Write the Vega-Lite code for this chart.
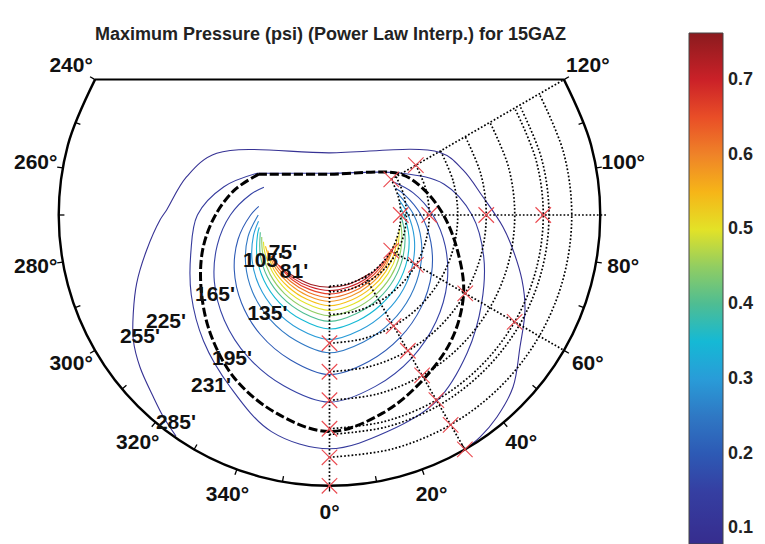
{
"$schema": "https://vega.github.io/schema/vega-lite/v6.json",
"width": 765, "height": 544, "autosize": "none", "padding": 0, "background": "white",
"title": {"text": "Maximum Pressure (psi) (Power Law Interp.) for 15GAZ", "frame": "group", "anchor": "middle", "dx": -52, "offset": -58, "baseline": "alphabetic", "font": "Liberation Sans", "fontSize": 18, "fontWeight": "bold", "color": "#222222"},
"config": {"view": {"stroke": null}},
"datasets": {
"contours": [
{"c":"C01","v":0.745,"x":-43.0,"y":-61.4},{"c":"C01","v":0.745,"x":-19.6,"y":-73.2},{"c":"C01","v":0.745,"x":0,"y":-76},{"c":"C01","v":0.745,"x":19.6,"y":-73.2},{"c":"C01","v":0.745,"x":43.0,"y":-61.4},
{"c":"C02","v":0.70,"x":-53.0,"y":-53.0},{"c":"C02","v":0.70,"x":-38.4,"y":-66.4},{"c":"C02","v":0.70,"x":-20.3,"y":-75.6},{"c":"C02","v":0.70,"x":0,"y":-79.5},{"c":"C02","v":0.70,"x":20.3,"y":-75.7},{"c":"C02","v":0.70,"x":38.6,"y":-66.8},{"c":"C02","v":0.70,"x":57.5,"y":-48.2},
{"c":"C03","v":0.66,"x":-57.5,"y":-48.2},{"c":"C03","v":0.66,"x":-39.3,"y":-68.1},{"c":"C03","v":0.66,"x":-21.0,"y":-78.3},{"c":"C03","v":0.66,"x":0,"y":-83},{"c":"C03","v":0.66,"x":21.1,"y":-78.6},{"c":"C03","v":0.66,"x":39.6,"y":-68.7},{"c":"C03","v":0.66,"x":54.4,"y":-54.4},{"c":"C03","v":0.66,"x":62.9,"y":-40.8},
{"c":"C04","v":0.62,"x":-61.4,"y":-43.0},{"c":"C04","v":0.62,"x":-54.9,"y":-54.9},{"c":"C04","v":0.62,"x":-40.6,"y":-70.3},{"c":"C04","v":0.62,"x":-21.9,"y":-81.6},{"c":"C04","v":0.62,"x":0,"y":-87},{"c":"C04","v":0.62,"x":21.9,"y":-81.9},{"c":"C04","v":0.62,"x":41.0,"y":-71.0},{"c":"C04","v":0.62,"x":55.7,"y":-55.7},{"c":"C04","v":0.62,"x":66.2,"y":-35.2},
{"c":"C05","v":0.58,"x":-65.0,"y":-37.5},{"c":"C05","v":0.58,"x":-56.4,"y":-56.4},{"c":"C05","v":0.58,"x":-42.0,"y":-72.7},{"c":"C05","v":0.58,"x":-22.8,"y":-85.0},{"c":"C05","v":0.58,"x":0,"y":-91},{"c":"C05","v":0.58,"x":22.9,"y":-85.3},{"c":"C05","v":0.58,"x":42.4,"y":-73.4},{"c":"C05","v":0.58,"x":57.2,"y":-57.2},{"c":"C05","v":0.58,"x":68.5,"y":-30.5},
{"c":"C06","v":0.54,"x":-67.4,"y":-32.9},{"c":"C06","v":0.54,"x":-58.1,"y":-58.1},{"c":"C06","v":0.54,"x":-43.6,"y":-75.5},{"c":"C06","v":0.54,"x":-23.8,"y":-88.8},{"c":"C06","v":0.54,"x":0,"y":-95.5},{"c":"C06","v":0.54,"x":23.9,"y":-89.2},{"c":"C06","v":0.54,"x":44.2,"y":-76.5},{"c":"C06","v":0.54,"x":59.3,"y":-59.3},{"c":"C06","v":0.54,"x":68.4,"y":-39.5},{"c":"C06","v":0.54,"x":71.3,"y":-23.2},
{"c":"C07","v":0.50,"x":-69.5,"y":-28.1},{"c":"C07","v":0.50,"x":-68.1,"y":-39.3},{"c":"C07","v":0.50,"x":-60.0,"y":-60.0},{"c":"C07","v":0.50,"x":-45.5,"y":-78.8},{"c":"C07","v":0.50,"x":-24.9,"y":-93.0},{"c":"C07","v":0.50,"x":0,"y":-100.5},{"c":"C07","v":0.50,"x":25.1,"y":-93.7},{"c":"C07","v":0.50,"x":46.2,"y":-80.0},{"c":"C07","v":0.50,"x":61.7,"y":-61.7},{"c":"C07","v":0.50,"x":70.9,"y":-41.0},{"c":"C07","v":0.50,"x":73.4,"y":-15.6},
{"c":"C08","v":0.45,"x":-71.3,"y":-23.2},{"c":"C08","v":0.45,"x":-70.2,"y":-40.6},{"c":"C08","v":0.45,"x":-62.5,"y":-62.5},{"c":"C08","v":0.45,"x":-47.6,"y":-82.4},{"c":"C08","v":0.45,"x":-26.2,"y":-97.8},{"c":"C08","v":0.45,"x":0,"y":-106},{"c":"C08","v":0.45,"x":26.4,"y":-98.6},{"c":"C08","v":0.45,"x":48.5,"y":-84.0},{"c":"C08","v":0.45,"x":64.6,"y":-64.6},{"c":"C08","v":0.45,"x":73.9,"y":-42.7},{"c":"C08","v":0.45,"x":76.2,"y":-20.4},{"c":"C08","v":0.45,"x":74.6,"y":-7.8},
{"c":"C09","v":0.40,"x":-72.8,"y":-18.1},{"c":"C09","v":0.40,"x":-72.8,"y":-42.1},{"c":"C09","v":0.40,"x":-65.3,"y":-65.3},{"c":"C09","v":0.40,"x":-50.0,"y":-86.5},{"c":"C09","v":0.40,"x":-27.6,"y":-103.1},{"c":"C09","v":0.40,"x":0,"y":-112},{"c":"C09","v":0.40,"x":27.9,"y":-104.0},{"c":"C09","v":0.40,"x":51.1,"y":-88.4},{"c":"C09","v":0.40,"x":67.8,"y":-67.8},{"c":"C09","v":0.40,"x":77.2,"y":-44.6},{"c":"C09","v":0.40,"x":79.5,"y":-21.3},{"c":"C09","v":0.40,"x":75,"y":0},
{"c":"C10","v":0.35,"x":-73.9,"y":-13.0},{"c":"C10","v":0.35,"x":-75.7,"y":-20.3},{"c":"C10","v":0.35,"x":-76.3,"y":-44.1},{"c":"C10","v":0.35,"x":-68.9,"y":-68.9},{"c":"C10","v":0.35,"x":-53.1,"y":-91.9},{"c":"C10","v":0.35,"x":-29.5,"y":-110.1},{"c":"C10","v":0.35,"x":0,"y":-120},{"c":"C10","v":0.35,"x":29.8,"y":-111.2},{"c":"C10","v":0.35,"x":54.4,"y":-94.2},{"c":"C10","v":0.35,"x":72.1,"y":-72.1},{"c":"C10","v":0.35,"x":81.8,"y":-47.2},{"c":"C10","v":0.35,"x":83.6,"y":-22.4},{"c":"C10","v":0.35,"x":78.4,"y":0},{"c":"C10","v":0.35,"x":74.6,"y":7.8},
{"c":"C11","v":0.30,"x":-74.7,"y":-6.5},{"c":"C11","v":0.30,"x":-80.0,"y":-21.4},{"c":"C11","v":0.30,"x":-81.5,"y":-47.1},{"c":"C11","v":0.30,"x":-74.2,"y":-74.2},{"c":"C11","v":0.30,"x":-57.5,"y":-99.5},{"c":"C11","v":0.30,"x":-32.1,"y":-119.9},{"c":"C11","v":0.30,"x":0,"y":-131},{"c":"C11","v":0.30,"x":32.5,"y":-121.1},{"c":"C11","v":0.30,"x":59.1,"y":-102.3},{"c":"C11","v":0.30,"x":77.9,"y":-77.9},{"c":"C11","v":0.30,"x":87.8,"y":-50.7},{"c":"C11","v":0.30,"x":89.2,"y":-23.9},{"c":"C11","v":0.30,"x":82.8,"y":0},{"c":"C11","v":0.30,"x":73.4,"y":15.6},
{"c":"C12","v":0.25,"x":-75,"y":0},{"c":"C12","v":0.25,"x":-85.8,"y":-23.0},{"c":"C12","v":0.25,"x":-88.3,"y":-51.0},{"c":"C12","v":0.25,"x":-81.0,"y":-81.0},{"c":"C12","v":0.25,"x":-63.1,"y":-109.3},{"c":"C12","v":0.25,"x":-35.4,"y":-132.1},{"c":"C12","v":0.25,"x":0,"y":-145},{"c":"C12","v":0.25,"x":35.8,"y":-133.7},{"c":"C12","v":0.25,"x":65.0,"y":-112.6},{"c":"C12","v":0.25,"x":85.2,"y":-85.2},{"c":"C12","v":0.25,"x":95.6,"y":-55.2},{"c":"C12","v":0.25,"x":96.5,"y":-25.9},{"c":"C12","v":0.25,"x":88.8,"y":0},{"c":"C12","v":0.25,"x":71.3,"y":23.2},
{"c":"C13","v":0.20,"x":-74.4,"y":9.1},{"c":"C13","v":0.20,"x":-83,"y":0},{"c":"C13","v":0.20,"x":-96.3,"y":-25.8},{"c":"C13","v":0.20,"x":-100.2,"y":-57.9},{"c":"C13","v":0.20,"x":-92.6,"y":-92.6},{"c":"C13","v":0.20,"x":-72.7,"y":-125.8},{"c":"C13","v":0.20,"x":-40.9,"y":-152.6},{"c":"C13","v":0.20,"x":0,"y":-168},{"c":"C13","v":0.20,"x":41.3,"y":-154.2},{"c":"C13","v":0.20,"x":74.4,"y":-128.9},{"c":"C13","v":0.20,"x":96.7,"y":-96.7},{"c":"C13","v":0.20,"x":107.4,"y":-62.0},{"c":"C13","v":0.20,"x":106.7,"y":-28.6},{"c":"C13","v":0.20,"x":96.4,"y":0},{"c":"C13","v":0.20,"x":79.2,"y":21.2},{"c":"C13","v":0.20,"x":69.5,"y":28.1},
{"c":"C14","v":0.16,"x":-69.0,"y":29.3},{"c":"C14","v":0.16,"x":-82.5,"y":22.1},{"c":"C14","v":0.16,"x":-104.3,"y":0},{"c":"C14","v":0.16,"x":-118.1,"y":-31.7},{"c":"C14","v":0.16,"x":-121.2,"y":-70.0},{"c":"C14","v":0.16,"x":-110.7,"y":-110.7},{"c":"C14","v":0.16,"x":-86.1,"y":-149.1},{"c":"C14","v":0.16,"x":-48.2,"y":-179.8},{"c":"C14","v":0.16,"x":0,"y":-197},{"c":"C14","v":0.16,"x":48.3,"y":-180.4},{"c":"C14","v":0.16,"x":86.8,"y":-150.3},{"c":"C14","v":0.16,"x":112.2,"y":-112.2},{"c":"C14","v":0.16,"x":123.8,"y":-71.5},{"c":"C14","v":0.16,"x":121.8,"y":-32.6},{"c":"C14","v":0.16,"x":108.8,"y":0},{"c":"C14","v":0.16,"x":87.8,"y":23.5},{"c":"C14","v":0.16,"x":66.2,"y":35.2},
{"c":"C15","v":0.13,"x":-76.2,"y":44.0},{"c":"C15","v":0.13,"x":-111.1,"y":29.8},{"c":"C15","v":0.13,"x":-139,"y":0},{"c":"C15","v":0.13,"x":-145.9,"y":-39.1},{"c":"C15","v":0.13,"x":-145.5,"y":-84.0},{"c":"C15","v":0.13,"x":-132.6,"y":-132.6},{"c":"C15","v":0.13,"x":-104.5,"y":-181.0},{"c":"C15","v":0.13,"x":-61.1,"y":-228.0},{"c":"C15","v":0.13,"x":0,"y":-246},{"c":"C15","v":0.13,"x":61.1,"y":-228.0},{"c":"C15","v":0.13,"x":113,"y":-195.7},{"c":"C15","v":0.13,"x":145.0,"y":-145.0},{"c":"C15","v":0.13,"x":160.2,"y":-92.5},{"c":"C15","v":0.13,"x":162.3,"y":-43.5},{"c":"C15","v":0.13,"x":150,"y":0},{"c":"C15","v":0.13,"x":120.7,"y":32.4},{"c":"C15","v":0.13,"x":76.2,"y":44.0},{"c":"C15","v":0.13,"x":0,"y":44.0},{"c":"C15","v":0.13,"x":-76.2,"y":44.0},
{"c":"C16","v":0.10,"x":-161.6,"y":-232.6},{"c":"C16","v":0.10,"x":-174.9,"y":-212.3},{"c":"C16","v":0.10,"x":-185.5,"y":-191.3},{"c":"C16","v":0.10,"x":-199.5,"y":-160},{"c":"C16","v":0.10,"x":-206.5,"y":-131.6},{"c":"C16","v":0.10,"x":-206.5,"y":-103.2},{"c":"C16","v":0.10,"x":-202.9,"y":-71.6},{"c":"C16","v":0.10,"x":-192.4,"y":-36.8},{"c":"C16","v":0.10,"x":-178.4,"y":-5.3},{"c":"C16","v":0.10,"x":-171.4,"y":5.3},{"c":"C16","v":0.10,"x":-150.3,"y":40.3},{"c":"C16","v":0.10,"x":-118.7,"y":64.9},{"c":"C16","v":0.10,"x":0,"y":65.4},{"c":"C16","v":0.10,"x":116.3,"y":65.8},{"c":"C16","v":0.10,"x":140.5,"y":47.4},{"c":"C16","v":0.10,"x":161.6,"y":18.9},{"c":"C16","v":0.10,"x":182.6,"y":-12.6},{"c":"C16","v":0.10,"x":193.2,"y":-36.8},{"c":"C16","v":0.10,"x":202.6,"y":-68.4},{"c":"C16","v":0.10,"x":205.8,"y":-100},{"c":"C16","v":0.10,"x":200.5,"y":-138.9},{"c":"C16","v":0.10,"x":193.2,"y":-181.1},{"c":"C16","v":0.10,"x":176.3,"y":-212.6},{"c":"C16","v":0.10,"x":158.4,"y":-233.7},{"c":"C16","v":0.10,"x":137.4,"y":-250.5}
],
"dash": [
{"x":-74.5,"y":43.0},{"x":-99.5,"y":26.7},{"x":-120,"y":0},{"x":-133.3,"y":-35.7},{"x":-135.1,"y":-78.0},{"x":-125.2,"y":-125.2},{"x":-99.5,"y":-172.3},{"x":-55.9,"y":-208.6},{"x":0,"y":-228},{"x":55.9,"y":-208.6},{"x":99.5,"y":-172.3},{"x":129.4,"y":-129.4},{"x":141.2,"y":-81.5},{"x":134.3,"y":-36.0},{"x":120,"y":0},{"x":99.5,"y":26.7},{"x":74.5,"y":43.0},{"x":0,"y":43.0},{"x":-74.5,"y":43.0}
],
"rings": [
{"r":75,"x":0,"y":-75},{"r":75,"x":19.4,"y":-72.4},{"r":75,"x":37.5,"y":-65.0},{"r":75,"x":53.0,"y":-53.0},{"r":75,"x":65.0,"y":-37.5},{"r":75,"x":72.4,"y":-19.4},{"r":75,"x":75,"y":0},{"r":75,"x":72.4,"y":19.4},{"r":75,"x":65.0,"y":37.5},
{"r":81,"x":0,"y":-81},{"r":81,"x":21.0,"y":-78.2},{"r":81,"x":40.5,"y":-70.1},{"r":81,"x":57.3,"y":-57.3},{"r":81,"x":70.1,"y":-40.5},{"r":81,"x":78.2,"y":-21.0},{"r":81,"x":81,"y":0},{"r":81,"x":78.2,"y":21.0},{"r":81,"x":70.1,"y":40.5},
{"r":105,"x":0,"y":-105},{"r":105,"x":27.2,"y":-101.4},{"r":105,"x":52.5,"y":-90.9},{"r":105,"x":74.2,"y":-74.2},{"r":105,"x":90.9,"y":-52.5},{"r":105,"x":101.4,"y":-27.2},{"r":105,"x":105,"y":0},{"r":105,"x":101.4,"y":27.2},{"r":105,"x":90.9,"y":52.5},
{"r":135,"x":0,"y":-135},{"r":135,"x":34.9,"y":-130.4},{"r":135,"x":67.5,"y":-116.9},{"r":135,"x":95.5,"y":-95.5},{"r":135,"x":116.9,"y":-67.5},{"r":135,"x":130.4,"y":-34.9},{"r":135,"x":135,"y":0},{"r":135,"x":130.4,"y":34.9},{"r":135,"x":116.9,"y":67.5},
{"r":165,"x":0,"y":-165},{"r":165,"x":42.7,"y":-159.4},{"r":165,"x":82.5,"y":-142.9},{"r":165,"x":116.7,"y":-116.7},{"r":165,"x":142.9,"y":-82.5},{"r":165,"x":159.4,"y":-42.7},{"r":165,"x":165,"y":0},{"r":165,"x":159.4,"y":42.7},{"r":165,"x":142.9,"y":82.5},
{"r":195,"x":0,"y":-195},{"r":195,"x":50.5,"y":-188.4},{"r":195,"x":97.5,"y":-168.9},{"r":195,"x":137.9,"y":-137.9},{"r":195,"x":168.9,"y":-97.5},{"r":195,"x":188.4,"y":-50.5},{"r":195,"x":195,"y":0},{"r":195,"x":188.4,"y":50.5},{"r":195,"x":168.9,"y":97.5},
{"r":225,"x":0,"y":-225},{"r":225,"x":58.2,"y":-217.3},{"r":225,"x":112.5,"y":-194.9},{"r":225,"x":159.1,"y":-159.1},{"r":225,"x":194.9,"y":-112.5},{"r":225,"x":217.3,"y":-58.2},{"r":225,"x":225,"y":0},{"r":225,"x":217.3,"y":58.2},{"r":225,"x":194.9,"y":112.5},
{"r":231,"x":0,"y":-231},{"r":231,"x":59.8,"y":-223.1},{"r":231,"x":115.5,"y":-200.1},{"r":231,"x":163.3,"y":-163.3},{"r":231,"x":200.1,"y":-115.5},{"r":231,"x":223.1,"y":-59.8},{"r":231,"x":231,"y":0},{"r":231,"x":223.1,"y":59.8},{"r":231,"x":200.1,"y":115.5},
{"r":255,"x":0,"y":-255},{"r":255,"x":66.0,"y":-246.3},{"r":255,"x":127.5,"y":-220.8},{"r":255,"x":180.3,"y":-180.3},{"r":255,"x":220.8,"y":-127.5},{"r":255,"x":246.3,"y":-66.0},{"r":255,"x":255,"y":0},{"r":255,"x":246.3,"y":66.0},{"r":255,"x":220.8,"y":127.5}
],
"rays": [
{"x":0,"y":-75,"x2":0,"y2":-285},{"x":37.5,"y":-65,"x2":142.5,"y2":-246.8},{"x":65,"y":-37.5,"x2":246.8,"y2":-142.5},{"x":75,"y":0,"x2":291,"y2":0},{"x":65,"y":37.5,"x2":246.8,"y2":142.5}
],
"outer": [
{"x":-246.8,"y":142.5},{"x":-275.3,"y":73.8},{"x":-285,"y":0},{"x":-275.3,"y":-73.8},{"x":-246.8,"y":-142.5},{"x":-201.5,"y":-201.5},{"x":-142.5,"y":-246.8},{"x":-73.8,"y":-275.3},{"x":0,"y":-285},{"x":73.8,"y":-275.3},{"x":142.5,"y":-246.8},{"x":201.5,"y":-201.5},{"x":246.8,"y":-142.5},{"x":275.3,"y":-73.8},{"x":285,"y":0},{"x":275.3,"y":73.8},{"x":246.8,"y":142.5}
],
"chord": [{"x":-246.8,"y":142.5,"x2":246.8,"y2":142.5}],
"ticks": [
{"x":49.5,"y":-280.7,"x2":48.4,"y2":-274.8},{"x":-49.5,"y":-280.7,"x2":-48.4,"y2":-274.8},
{"x":142.5,"y":-246.8,"x2":139.5,"y2":-241.6},{"x":-142.5,"y":-246.8,"x2":-139.5,"y2":-241.6},
{"x":218.3,"y":-183.2,"x2":213.7,"y2":-179.3},{"x":-218.3,"y":-183.2,"x2":-213.7,"y2":-179.3},
{"x":267.8,"y":-97.5,"x2":262.2,"y2":-95.4},{"x":-267.8,"y":-97.5,"x2":-262.2,"y2":-95.4},
{"x":-285,"y":0,"x2":-279,"y2":0},
{"x":267.8,"y":97.5,"x2":262.2,"y2":95.4},{"x":-267.8,"y":97.5,"x2":-262.2,"y2":95.4},
{"x":0,"y":-285,"x2":0,"y2":-291},
{"x":97.5,"y":-267.8,"x2":99.5,"y2":-273.5},{"x":-97.5,"y":-267.8,"x2":-99.5,"y2":-273.5},
{"x":183.2,"y":-218.3,"x2":187.1,"y2":-222.9},{"x":-183.2,"y":-218.3,"x2":-187.1,"y2":-222.9},
{"x":246.8,"y":-142.5,"x2":252,"y2":-145.5},{"x":-246.8,"y":-142.5,"x2":-252,"y2":-145.5},
{"x":280.7,"y":-49.5,"x2":286.6,"y2":-50.5},{"x":-280.7,"y":-49.5,"x2":-286.6,"y2":-50.5},
{"x":280.7,"y":49.5,"x2":286.6,"y2":50.5},{"x":-280.7,"y":49.5,"x2":-286.6,"y2":50.5},
{"x":246.8,"y":142.5,"x2":252,"y2":145.5},{"x":-246.8,"y":142.5,"x2":-252,"y2":145.5}
],
"marks": [
{"x":0,"y":-135},{"x":0,"y":-165},{"x":0,"y":-195},{"x":0,"y":-225},{"x":0,"y":-255},{"x":0,"y":-285},
{"x":67.5,"y":-116.9},{"x":82.5,"y":-142.9},{"x":97.5,"y":-168.9},{"x":112.5,"y":-194.9},{"x":127.5,"y":-220.8},{"x":142.5,"y":-246.8},
{"x":65,"y":-37.5},{"x":90.9,"y":-52.5},{"x":142.9,"y":-82.5},{"x":194.9,"y":-112.5},
{"x":75,"y":0},{"x":105,"y":0},{"x":165,"y":0},{"x":225,"y":0},
{"x":65,"y":37.5},{"x":90.9,"y":52.5}
],
"alab": [
{"t":"0°","x":0,"y":-314},{"t":"20°","x":107.4,"y":-295.1},{"t":"40°","x":201.8,"y":-240.5},{"t":"60°","x":271.9,"y":-157},{"t":"80°","x":309.2,"y":-54.5},{"t":"100°","x":309.2,"y":54.5},{"t":"120°","x":271.9,"y":157},
{"t":"240°","x":-271.9,"y":157},{"t":"260°","x":-309.2,"y":54.5},{"t":"280°","x":-309.2,"y":-54.5},{"t":"300°","x":-271.9,"y":-157},{"t":"320°","x":-201.8,"y":-240.5},{"t":"340°","x":-107.4,"y":-295.1}
],
"rlab": [
{"t":"75'","x":-48.9,"y":-39.5},{"t":"105'","x":-70,"y":-48.4},{"t":"81'","x":-37.4,"y":-60.5},{"t":"165'","x":-120.5,"y":-84.2},{"t":"135'","x":-65.3,"y":-104.2},{"t":"225'","x":-172.1,"y":-112.6},{"t":"255'","x":-199.5,"y":-127.9},{"t":"195'","x":-102.6,"y":-151.6},{"t":"231'","x":-124.7,"y":-179.5},{"t":"285'","x":-161.6,"y":-219}
]
},
"encoding": {
"x": {"field": "x", "type": "quantitative", "scale": {"domain": [-346.8, 458.4], "nice": false, "zero": false}, "axis": null},
"y": {"field": "y", "type": "quantitative", "scale": {"domain": [-346.3, 226.3], "nice": false, "zero": false}, "axis": null}
},
"layer": [
{"data": {"name": "contours"}, "mark": {"type": "line", "interpolate": "catmull-rom", "strokeWidth": 1.1},
 "encoding": {"detail": {"field": "c"}, "order": {"value": null},
  "color": {"field": "v", "type": "quantitative",
   "scale": {"domain": [0.079, 0.763], "range": ["#362d8e", "#3443a6", "#2f78c4", "#39b5e2", "#74bb78", "#f0e31c", "#f08a2a", "#e3242b", "#8b1a1e"]},
   "legend": {"orient": "none", "legendX": 689, "legendY": 33, "direction": "vertical", "gradientLength": 511, "gradientThickness": 34, "title": null, "values": [0.1, 0.2, 0.3, 0.4, 0.5, 0.6, 0.7], "format": ".1f", "labelFont": "Liberation Sans", "labelFontSize": 18, "labelFontWeight": "bold", "labelColor": "#222222", "labelOffset": 5, "gradientStrokeColor": "#444444", "gradientStrokeWidth": 1, "labelOverlap": false, "labelLimit": 0}}}},
{"data": {"name": "dash"}, "mark": {"type": "line", "interpolate": "catmull-rom", "color": "black", "strokeWidth": 3, "strokeDash": [9, 3]},
 "encoding": {"order": {"value": null}}},
{"data": {"name": "rings"}, "mark": {"type": "line", "interpolate": "catmull-rom", "color": "black", "strokeWidth": 1.7, "strokeDash": [1.7, 2]},
 "encoding": {"detail": {"field": "r"}, "order": {"value": null}}},
{"data": {"name": "rays"}, "mark": {"type": "rule", "color": "black", "strokeWidth": 1.7, "strokeDash": [1.7, 2]},
 "encoding": {"x2": {"field": "x2"}, "y2": {"field": "y2"}}},
{"data": {"name": "outer"}, "mark": {"type": "line", "interpolate": "catmull-rom", "color": "black", "strokeWidth": 2.4},
 "encoding": {"order": {"value": null}}},
{"data": {"name": "chord"}, "mark": {"type": "rule", "color": "black", "strokeWidth": 2},
 "encoding": {"x2": {"field": "x2"}, "y2": {"field": "y2"}}},
{"data": {"name": "ticks"}, "mark": {"type": "rule", "color": "black", "strokeWidth": 1.3},
 "encoding": {"x2": {"field": "x2"}, "y2": {"field": "y2"}}},
{"data": {"name": "marks"}, "mark": {"type": "point", "shape": "M-1,-1L1,1M-1,1L1,-1", "size": 240, "filled": false, "color": "#ea4a50", "strokeWidth": 1.1, "opacity": 1}},
{"data": {"name": "alab"}, "mark": {"type": "text", "font": "Liberation Sans", "fontSize": 21, "fontWeight": "bold", "color": "#111111", "align": "center", "baseline": "middle"},
 "encoding": {"text": {"field": "t"}}},
{"data": {"name": "rlab"}, "mark": {"type": "text", "font": "Liberation Sans", "fontSize": 21, "fontWeight": "bold", "color": "#111111", "align": "center", "baseline": "middle"},
 "encoding": {"text": {"field": "t"}}}
]
}
